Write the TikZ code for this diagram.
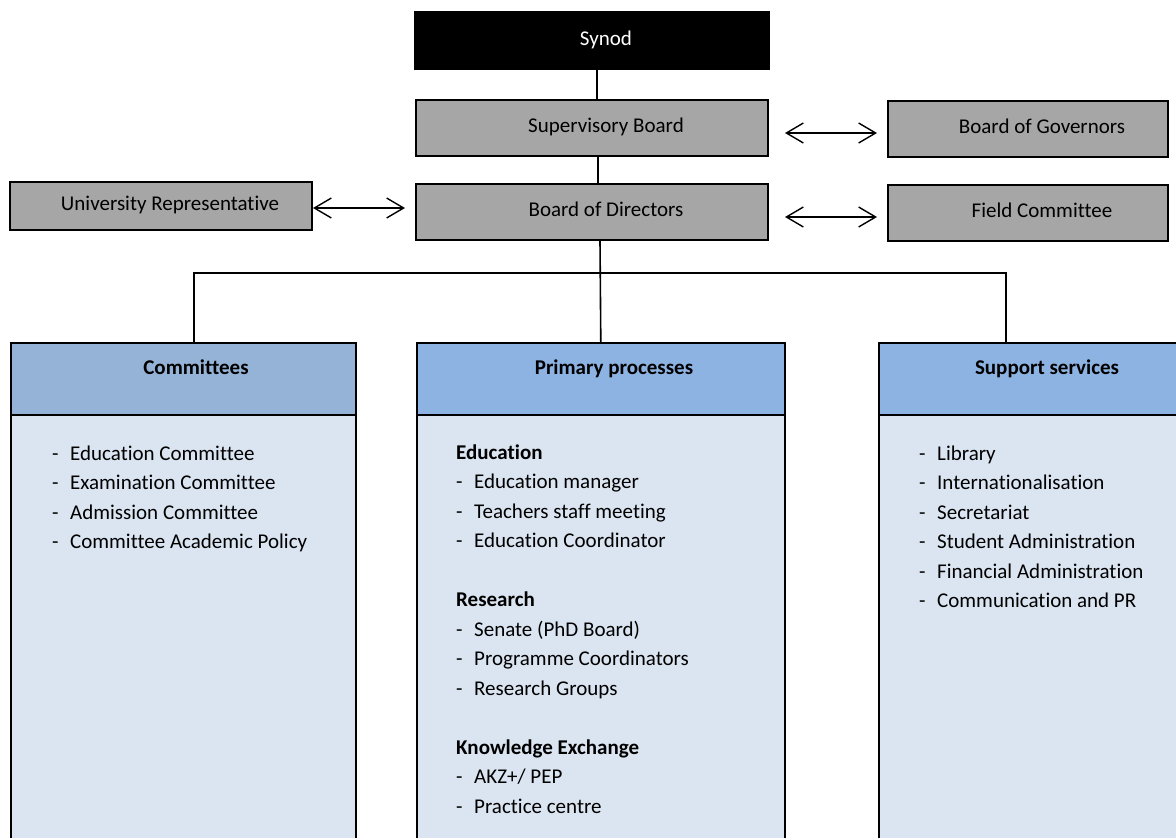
\documentclass[tikz,border=0pt]{standalone}
\usepackage{fontspec}
\setmainfont{Carlito}[Ligatures={NoCommon}]
\usetikzlibrary{arrows.meta,calc}
\definecolor{boxgray}{HTML}{A6A6A6}
\definecolor{hdrA}{HTML}{95B3D7}
\definecolor{hdrB}{HTML}{8DB3E2}
\definecolor{bodyblue}{HTML}{DBE5F1}
\newcommand\lstitem[3]{\node[itm] (#1) at (#2) {\makebox[18pt][l]{-}#3};}
\begin{document}
\begin{tikzpicture}[x=1pt,y=-1pt,
  font=\fontsize{21}{25}\selectfont,
  box/.style={draw=black, line width=1.6pt, inner sep=0pt, text height=9pt, text depth=0pt},
  gbox/.style={box, fill=boxgray, minimum width=352pt, minimum height=56pt},
  hdr/.style={draw=black, line width=1.6pt, inner sep=0pt, anchor=north west, minimum height=72pt},
  bodybox/.style={draw=black, line width=1.6pt, inner sep=0pt, anchor=north west, fill=bodyblue, minimum height=450pt},
  hdrtxt/.style={anchor=base, inner sep=0pt, font=\fontsize{21}{25}\selectfont\bfseries},
  itm/.style={anchor=base west, inner sep=0pt},
  sub/.style={anchor=base west, inner sep=0pt, font=\fontsize{21}{25}\selectfont\bfseries},
  conn/.style={draw=black, line width=1.6pt},
  dbl/.style={draw=black, line width=1.4pt, {Straight Barb[length=17pt,width=20pt]}-{Straight Barb[length=17pt,width=20pt]}}]
\useasboundingbox (0,0) rectangle (1176,838);
\clip (0,0) rectangle (1176,838);

% top boxes
\node[box, fill=black, text=white, minimum width=354pt, minimum height=57pt] (syn) at (592,40.5) {\hspace*{28pt}Synod};
\node[gbox] (sup) at (592,128) {\hspace*{28pt}Supervisory Board};
\node[gbox] (bod) at (592,212) {\hspace*{28pt}Board of Directors};
\node[box, fill=boxgray, minimum width=302pt, minimum height=48pt] (ur) at (161,206) {\hspace*{18pt}University Representative};
\node[box, fill=boxgray, minimum width=280pt, minimum height=56pt] (bog) at (1028,129) {\hspace*{28pt}Board of Governors};
\node[box, fill=boxgray, minimum width=280pt, minimum height=56pt] (fc) at (1028,213) {\hspace*{28pt}Field Committee};

% columns
\node[hdr, fill=hdrA, minimum width=345pt] (comh) at (10,342) {};
\node[bodybox, minimum width=345pt] (comb) at (10,414) {};
\node[hdr, fill=hdrB, minimum width=368pt] (prh) at (416,342) {};
\node[bodybox, minimum width=368pt] (prb) at (416,414) {};
\node[hdr, fill=hdrB, minimum width=322pt] (suh) at (878,342) {};
\node[bodybox, minimum width=322pt] (sub) at (878,414) {};

\node[hdrtxt] (comt) at (196,374) {Committees};
\node[hdrtxt] (prt) at (614,374) {Primary processes};
\node[hdrtxt] (sut) at (1047,374) {Support services};

% committees list
\lstitem{c1}{52,460}{Education Committee}
\lstitem{c2}{52,489.5}{Examination Committee}
\lstitem{c3}{52,519}{Admission Committee}
\lstitem{c4}{52,548.5}{Committee Academic Policy}

% primary list
\node[sub] (pe) at (456,459) {Education};
\lstitem{p1}{456,488.5}{Education manager}
\lstitem{p2}{456,518}{Teachers staff meeting}
\lstitem{p3}{456,547.5}{Education Coordinator}
\node[sub] (pr) at (456,606.5) {Research};
\lstitem{p4}{456,636}{Senate (PhD Board)}
\lstitem{p5}{456,665.5}{Programme Coordinators}
\lstitem{p6}{456,695}{Research Groups}
\node[sub] (pk) at (456,754) {Knowledge Exchange};
\lstitem{p7}{456,783.5}{AKZ+/ PEP}
\lstitem{p8}{456,813}{Practice centre}

% support list
\lstitem{s1}{919,460}{Library}
\lstitem{s2}{919,489.5}{Internationalisation}
\lstitem{s3}{919,519}{Secretariat}
\lstitem{s4}{919,548.5}{Student Administration}
\lstitem{s5}{919,578}{Financial Administration}
\lstitem{s6}{919,607.5}{Communication and PR}

% connectors
\draw[conn] ([xshift=5pt]syn.south) -- ([xshift=5pt]sup.north);
\draw[conn] ([xshift=6pt]sup.south) -- ([xshift=6pt]bod.north);
\coordinate (jl) at (194,273);
\coordinate (jr) at (1006,273);
\draw[conn] ([xshift=8pt]bod.south) -- (prh.north);
\draw[conn] (jl |- comh.north) -- (jl) -- (jr) -- (jr |- suh.north);

% double arrows
\coordinate (ua) at (313,208);
\coordinate (ub) at (405,208);
\coordinate (ga) at (785,133);
\coordinate (gb) at (877,133);
\coordinate (fa) at (785,217);
\coordinate (fb) at (877,217);
\draw[dbl] (ua) -- (ub);
\draw[dbl] (ga) -- (gb);
\draw[dbl] (fa) -- (fb);
\end{tikzpicture}
\end{document}
